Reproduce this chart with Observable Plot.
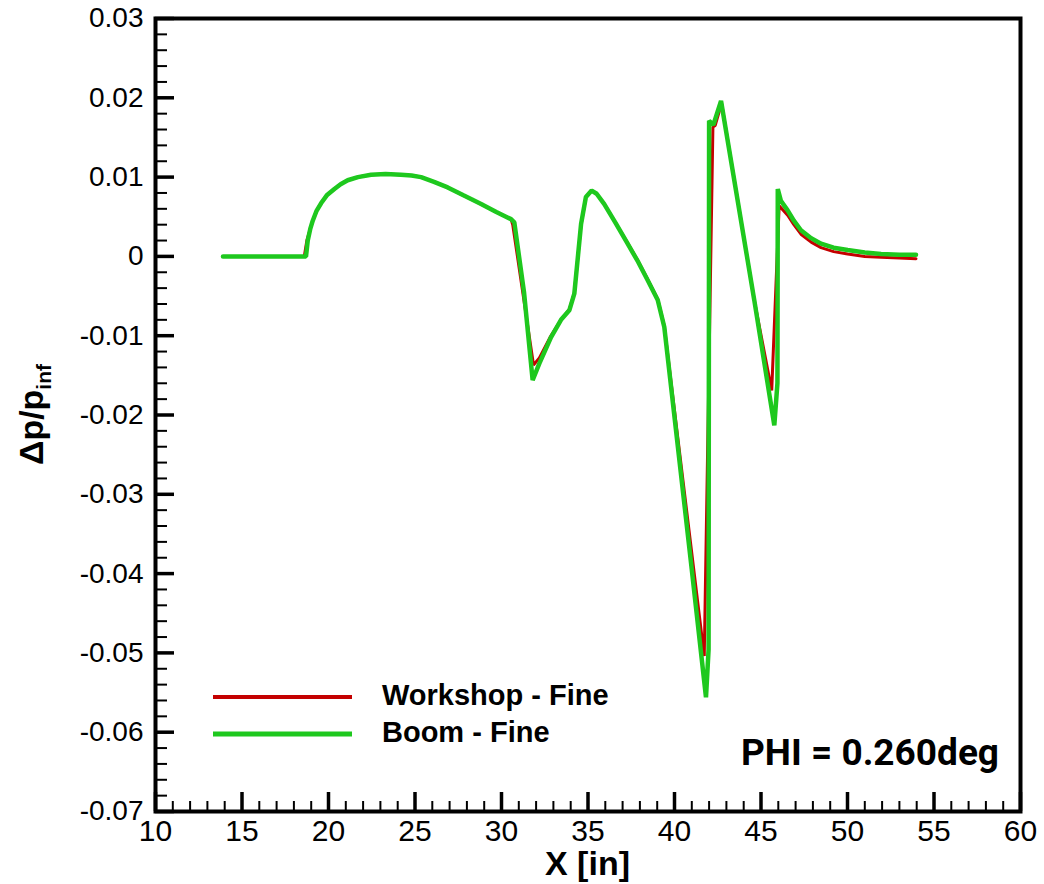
<!DOCTYPE html>
<html><head><meta charset="utf-8">
<script src="https://cdn.jsdelivr.net/npm/d3@7"></script>
<script src="https://cdn.jsdelivr.net/npm/@observablehq/plot@0.6"></script>
<style>html,body{margin:0;padding:0;background:#fff}</style>
</head><body><div id="chart"></div>
<script>
// ---- data ----
const seriesNames = ["Workshop - Fine", "Boom - Fine"];
const seriesColors = ["#c40000", "#1ec81e"];

const workshopX = [13.9, 18.6, 18.75, 18.95, 19.09, 19.3, 19.57, 19.9, 20.34, 20.7, 21.11, 21.7, 22.46, 23.3, 24.19, 24.8, 25.35, 26.1, 26.89, 27.8, 28.82, 29.7, 30.55, 30.65, 31.85, 32.19, 32.86, 33.44, 33.92, 34.21, 34.60, 34.88, 35.21, 35.5, 35.94, 36.6, 37.29, 37.9, 38.45, 39.03, 39.41, 41.72, 42.22, 42.35, 42.72, 44.61, 45.62, 46.05, 46.54, 46.9, 47.31, 47.9, 48.47, 49.2, 50.01, 51.0, 51.94, 53.0, 53.96];
const workshopY = [0, 0, 0.0020, 0.0035, 0.0045, 0.0057, 0.0067, 0.0077, 0.0085, 0.0091, 0.0096, 0.0100, 0.0103, 0.0104, 0.0103, 0.0102, 0.0100, 0.0094, 0.0087, 0.0077, 0.0066, 0.0056, 0.0047, 0.0040, -0.0137, -0.0128, -0.0100, -0.0080, -0.0067, -0.0046, 0.0040, 0.0075, 0.0083, 0.0079, 0.0066, 0.0042, 0.0017, -0.0006, -0.0029, -0.0054, -0.0088, -0.0504, 0.0163, 0.0165, 0.0193, -0.0055, -0.0169, 0.0064, 0.0052, 0.0040, 0.0028, 0.0018, 0.0011, 0.0006, 0.0003, 0.0000, -0.0001, -0.0002, -0.0003];

const boomX = [13.9, 18.70, 18.80, 18.95, 19.09, 19.3, 19.57, 19.9, 20.34, 20.7, 21.11, 21.7, 22.46, 23.3, 24.19, 24.8, 25.35, 26.1, 26.89, 27.8, 28.82, 29.7, 30.55, 30.74, 31.30, 31.80, 32.19, 32.86, 33.44, 33.92, 34.21, 34.60, 34.88, 35.21, 35.5, 35.94, 36.6, 37.29, 37.9, 38.45, 39.03, 39.41, 41.00, 41.82, 41.97, 42.00, 42.25, 42.69, 44.61, 45.77, 45.95, 45.97, 46.15, 46.54, 46.9, 47.31, 47.9, 48.47, 49.2, 50.01, 51.0, 51.94, 53.0, 53.96];
const boomY = [0, 0, 0.0020, 0.0035, 0.0045, 0.0057, 0.0067, 0.0077, 0.0085, 0.0091, 0.0096, 0.0100, 0.0103, 0.0104, 0.0103, 0.0102, 0.0100, 0.0094, 0.0087, 0.0077, 0.0066, 0.0056, 0.0047, 0.0043, -0.0045, -0.0156, -0.0135, -0.0102, -0.0080, -0.0068, -0.0047, 0.0041, 0.0075, 0.0083, 0.0079, 0.0066, 0.0042, 0.0016, -0.0007, -0.0030, -0.0055, -0.0089, -0.0395, -0.0556, -0.0496, 0.0171, 0.0166, 0.0196, -0.0055, -0.0213, -0.0160, 0.0085, 0.0070, 0.0058, 0.0045, 0.0033, 0.0023, 0.0016, 0.0011, 0.0008, 0.0005, 0.0003, 0.0002, 0.0002];

const xMajorTicks = [10, 15, 20, 25, 30, 35, 40, 45, 50, 55, 60];
const xTickLabels = ["10", "15", "20", "25", "30", "35", "40", "45", "50", "55", "60"];
const yMajorTicks = [0.03, 0.02, 0.01, 0, -0.01, -0.02, -0.03, -0.04, -0.05, -0.06, -0.07];
const yTickLabels = ["0.03", "0.02", "0.01", "0", "-0.01", "-0.02", "-0.03", "-0.04", "-0.05", "-0.06", "-0.07"];
const xMinorTicks = d3.range(10, 60.5, 1);
const yMinorTicks = d3.range(-70, 31, 2).map(v => v / 1000);

const xTitle = "X [in]";
const yTitleMain = "\u0394p/p";
const yTitleSub = "inf";
const annotation = "PHI = 0.260deg";

// ---- tables ----
const workshopRows = workshopX.map((x, i) => ({x, y: workshopY[i]}));
const boomRows = boomX.map((x, i) => ({x, y: boomY[i]}));

const W = 1044, H = 884;
const ML = 155, MR = 24, MT = 18, MB = 73;

const svg = Plot.plot({
  width: W, height: H,
  marginLeft: ML, marginRight: MR, marginTop: MT, marginBottom: MB,
  x: {domain: [10, 60]},
  y: {domain: [-0.07, 0.03]},
  style: {fontFamily: "'Liberation Sans', Arial, Helvetica, sans-serif", color: "#000", background: "#fff", overflow: "visible"},
  marks: [
    Plot.line(workshopRows, {x: "x", y: "y", stroke: seriesColors[0], strokeWidth: 3, strokeLinejoin: "miter"}),
    Plot.line(boomRows, {x: "x", y: "y", stroke: seriesColors[1], strokeWidth: 4.5, strokeLinejoin: "miter"}),
    Plot.axisX(xMinorTicks, {tickSize: -10, strokeWidth: 2, fill: "none", label: null}),
    Plot.axisX(xMajorTicks, {tickSize: -19, strokeWidth: 3.5, fill: "none", label: null}),
    Plot.axisX(xMajorTicks, {tickSize: 0, tickPadding: 8, fontSize: 30, tickFormat: d => xTickLabels[xMajorTicks.indexOf(d)], label: null}),
    Plot.axisY(yMinorTicks, {tickSize: -12, strokeWidth: 2, fill: "none", label: null}),
    Plot.axisY(yMajorTicks, {tickSize: -19, strokeWidth: 3.5, fill: "none", label: null}),
    Plot.axisY(yMajorTicks, {tickSize: 0, tickPadding: 12, fontSize: 28, tickFormat: d => yTickLabels[yMajorTicks.indexOf(d)], label: null}),
    Plot.frame({stroke: "#000", strokeWidth: 4})
  ]
});
document.getElementById("chart").appendChild(svg);

// ---- overlays: titles, legend, annotation ----
const s = d3.select(svg);
const font = "'Liberation Sans', Arial, Helvetica, sans-serif";

s.append("text")
  .attr("x", (ML + W - MR) / 2).attr("y", 875)
  .attr("text-anchor", "middle")
  .attr("font-family", font).attr("font-weight", "bold").attr("font-size", 34)
  .attr("fill", "#000")
  .text(xTitle);

const yt = s.append("text")
  .attr("transform", `translate(43, ${(MT + H - MB) / 2}) rotate(-90)`)
  .attr("text-anchor", "middle")
  .attr("font-family", font).attr("font-weight", "bold").attr("fill", "#000");
yt.append("tspan").attr("font-size", 34).text(yTitleMain);
yt.append("tspan").attr("font-size", 21).attr("dy", 8).text(yTitleSub);

const legend = s.append("g");
const legendY = [697, 734];
const legendW = [4, 5];
seriesNames.forEach((name, i) => {
  legend.append("line")
    .attr("x1", 213).attr("x2", 352).attr("y1", legendY[i]).attr("y2", legendY[i])
    .attr("stroke", seriesColors[i]).attr("stroke-width", legendW[i]);
  legend.append("text")
    .attr("x", 382).attr("y", legendY[i] + 8)
    .attr("text-anchor", "start")
    .attr("font-family", font).attr("font-weight", "bold").attr("font-size", 29)
    .attr("fill", "#000")
    .text(name);
});

s.append("text")
  .attr("x", 741).attr("y", 765)
  .attr("text-anchor", "start")
  .attr("font-family", "Roboto, 'Open Sans', sans-serif").attr("font-weight", "bold").attr("font-size", 37)
  .attr("fill", "#000")
  .text(annotation);
</script>
</body></html>
